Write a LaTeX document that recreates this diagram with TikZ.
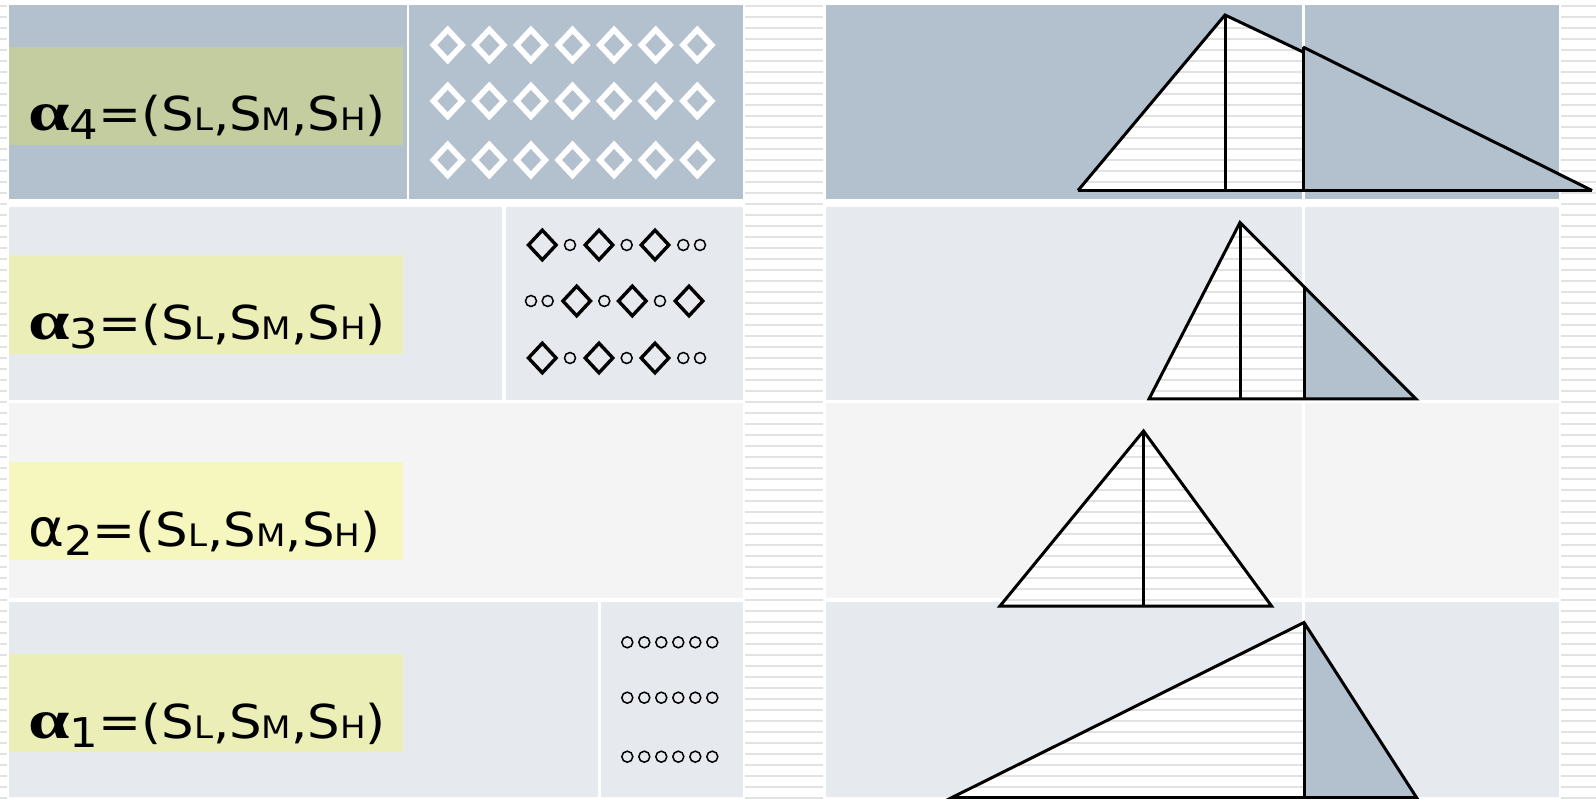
\documentclass[tikz,border=0pt]{standalone}
\usepackage{fontspec}
\setmainfont{DejaVu Sans}[FakeStretch=1.1]
\newfontfamily\greekfont{Liberation Serif}[FakeStretch=1.35]
\newfontfamily\plaingreek{DejaVu Sans}[FakeStretch=1.05]
\usetikzlibrary{shapes.geometric}

\definecolor{slate}{RGB}{179,192,205}
\definecolor{mist}{RGB}{230,233,238}
\definecolor{paper}{RGB}{243,244,243}
\definecolor{olivetag}{RGB}{196,205,159}
\definecolor{palelime}{RGB}{236,238,184}
\definecolor{paleyellow}{RGB}{245,247,190}
\definecolor{ruleline}{RGB}{226,226,226}

\newcommand{\subsz}[1]{{\fontsize{31}{31}\selectfont #1}}
\newcommand{\alphatuple}[2]{#1\raisebox{-9pt}{\fontsize{41}{41}\selectfont #2}=(S\subsz{L},S\subsz{M},S\subsz{H})}
\newcommand{\boldalpha}{{\greekfont\bfseries\fontsize{55}{55}\selectfont α}}
\newcommand{\plainalpha}{{\plaingreek\fontsize{52}{52}\selectfont α}}
\newcommand{\stripefill}{%
  \fill[white] (0,0) rectangle (1596,799);
  \foreach \k in {0,...,72} \draw[stripe] (0,5.7+11*\k) -- (1596,5.7+11*\k);}

\begin{document}
\begin{tikzpicture}[
    x=1pt, y=-1pt,
    stripe/.style={draw=ruleline, line width=2.3pt},
    tagtext/.style={anchor=base west, inner sep=0pt,
        font=\fontsize{46.7}{50}\selectfont},
    whitegem/.style={diamond, draw=white, line width=5.6pt,
        minimum width=31pt, minimum height=33pt, inner sep=0pt},
    blackgem/.style={diamond, draw=black, line width=3.4pt,
        minimum width=29pt, minimum height=31pt, inner sep=0pt},
    ring/.style={circle, draw=black, line width=1.5pt,
        minimum size=11pt, inner sep=0pt},
    outline/.style={draw=black, line width=3pt}
]
\useasboundingbox (0,0) rectangle (1596,799);
\fill[white] (0,0) rectangle (1596,799);
\foreach \xa/\xb in {0/7, 744.5/823, 1561/1596}
  \foreach \k in {0,...,72}
    \draw[stripe] (\xa,5.7+11*\k) -- (\xb,5.7+11*\k);

% rows, top to bottom
\fill[slate] (9,5.3) rectangle (407,199);
\fill[slate] (409.3,5.3) rectangle (742.7,199);
\fill[slate] (825.5,5.3) rectangle (1302,199);
\fill[slate] (1305,5.3) rectangle (1559,199);

\fill[mist] (9,206.7) rectangle (502,400);
\fill[mist] (505.7,206.7) rectangle (742.7,400);
\fill[mist] (825.5,206.7) rectangle (1302,400);
\fill[mist] (1305,206.7) rectangle (1559,400);

\fill[paper] (9,402.7) rectangle (742.7,598);
\fill[paper] (825.5,402.7) rectangle (1302,598);
\fill[paper] (1305,402.7) rectangle (1559,598);

\fill[mist] (9,601.7) rectangle (598,797);
\fill[mist] (601,601.7) rectangle (742.7,797);
\fill[mist] (825.5,601.7) rectangle (1302,797);
\fill[mist] (1305,601.7) rectangle (1559,797);

% labels
\fill[olivetag] (9,47) rectangle (403,145);
\node[tagtext] (tag4) at (28,131) {\alphatuple{\boldalpha}{4}};
\fill[palelime] (9,255.5) rectangle (403,354);
\node[tagtext] (tag3) at (28,340) {\alphatuple{\boldalpha}{3}};
\fill[paleyellow] (9,462) rectangle (403,560);
\node[tagtext] (tag2) at (28,546) {\alphatuple{\plainalpha}{2}};
\fill[palelime] (9,654) rectangle (403,752);
\node[tagtext] (tag1) at (28,738) {\alphatuple{\boldalpha}{1}};

% markers
\foreach \r [count=\i] in {45,101,160}
  \foreach \c in {0,...,6}
    \node[whitegem] (w\i-\c) at (447.7+41.6*\c,\r) {};

\foreach \r [count=\i] in {245,358} {
  \foreach \x [count=\j] in {542.3,599,655}
    \node[blackgem] (k\i-\j) at (\x,\r) {};
  \foreach \x [count=\j] in {570,626.7,683.3,700}
    \node[ring] (o\i-\j) at (\x,\r) {};
}
\foreach \x [count=\j] in {576.7,632.3,689}
  \node[blackgem] (km-\j) at (\x,301) {};
\foreach \x [count=\j] in {531,547.7,604.3,660}
  \node[ring] (om-\j) at (\x,301) {};

\foreach \r [count=\i] in {642.3,697.7,756.7}
  \foreach \c in {0,...,5}
    \node[ring] (p\i-\c) at (627.3+17*\c,\r) {};

% triangles
\coordinate (d-base) at (1078,190.5);
\coordinate (d-apex) at (1225,15);
\coordinate (d-cut)  at (1303,52);
\coordinate (d-foot) at (1303,190.5);
\coordinate (d-mid)  at (1225,190.5);
\coordinate (d-top)  at (1303,47);
\coordinate (d-tip)  at (1592,190.5);
\begin{scope}
  \clip (d-base) -- (d-apex) -- (d-cut) -- (d-foot) -- cycle;
  \stripefill
\end{scope}
\fill[slate] (d-top) -- (d-tip) -- (d-foot) -- cycle;
\draw[outline] (d-base) -- (d-apex) -- (d-cut);
\draw[outline] (d-apex) -- (d-mid);
\draw[outline] (d-top) -- (d-tip);
\draw[outline] (d-top) -- (d-foot);
\draw[outline] (d-base) -- (d-tip);

\coordinate (c-base) at (1149,399);
\coordinate (c-apex) at (1240,222.5);
\coordinate (c-tip)  at (1416,399);
\coordinate (c-mid)  at (1240,399);
\coordinate (c-cut)  at (1304,286.7);
\coordinate (c-foot) at (1304,399);
\begin{scope}
  \clip (c-base) -- (c-apex) -- (c-cut) -- (c-foot) -- cycle;
  \stripefill
\end{scope}
\fill[slate] (c-cut) -- (c-tip) -- (c-foot) -- cycle;
\draw[outline] (c-base) -- (c-apex) -- (c-tip) -- cycle;
\draw[outline] (c-apex) -- (c-mid);
\draw[outline] (c-cut) -- (c-foot);

\coordinate (b-base) at (1000,606);
\coordinate (b-apex) at (1143.5,431);
\coordinate (b-tip)  at (1271.5,606);
\coordinate (b-mid)  at (1143.5,606);
\begin{scope}
  \clip (b-base) -- (b-apex) -- (b-tip) -- cycle;
  \stripefill
\end{scope}
\draw[outline] (b-base) -- (b-apex) -- (b-tip) -- cycle;
\draw[outline] (b-apex) -- (b-mid);

\coordinate (a-base) at (952,797.5);
\coordinate (a-apex) at (1304,622.5);
\coordinate (a-tip)  at (1416.5,797.5);
\coordinate (a-foot) at (1304,797.5);
\begin{scope}
  \clip (a-base) -- (a-apex) -- (a-foot) -- cycle;
  \stripefill
\end{scope}
\fill[slate] (a-apex) -- (a-tip) -- (a-foot) -- cycle;
\draw[outline] (a-base) -- (a-apex) -- (a-tip) -- cycle;
\draw[outline] (a-apex) -- (a-foot);
\end{tikzpicture}
\end{document}
